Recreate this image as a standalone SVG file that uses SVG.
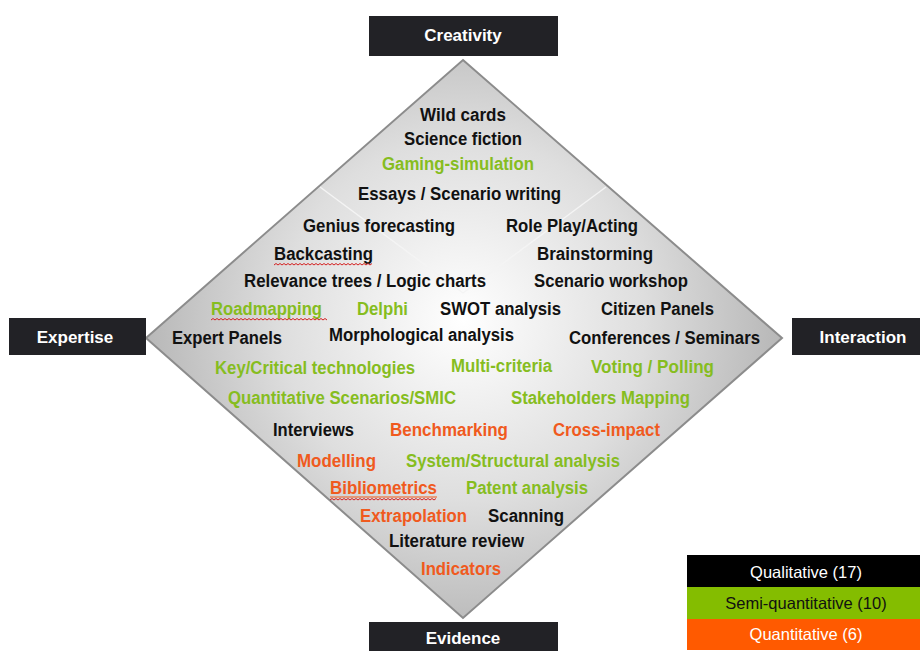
<svg xmlns="http://www.w3.org/2000/svg" width="920" height="651" viewBox="0 0 920 651">
<defs>
<radialGradient id="dg" cx="463" cy="320" r="330" gradientUnits="userSpaceOnUse">
<stop offset="0" stop-color="#ffffff"/>
<stop offset="0.55" stop-color="#dedede"/>
<stop offset="1" stop-color="#b4b4b4"/>
</radialGradient>
<style>
.lbl{font-family:"Liberation Sans",Arial,sans-serif;font-weight:bold;font-size:17px;fill:#ffffff;text-anchor:middle}
.t{font-family:"Liberation Sans",Arial,sans-serif;font-weight:bold;font-size:18px}
.k{fill:#111111}
.g{fill:#86bd1f}
.o{fill:#f05a1e}
.box{fill:#222226}
.lg{font-family:"Liberation Sans",Arial,sans-serif;font-size:16.5px;text-anchor:middle}
.sq{fill:none;stroke:#d42020;stroke-width:1}
</style>
</defs>
<rect width="920" height="651" fill="#ffffff"/>
<g id="diamond">
<polygon points="463,60 782,338 463,618 146,338" fill="url(#dg)" stroke="#8c8c8c" stroke-width="2"/>
<polyline points="320,187 463,293 606,187" fill="none" stroke="#f4f4f4" stroke-width="1.4"/>
</g>
<g id="creativity"><rect class="box" x="369" y="16" width="189" height="40"/><text class="lbl" x="463" y="41">Creativity</text></g>
<g id="expertise"><rect class="box" x="9" y="318" width="137" height="37"/><text class="lbl" x="75" y="343">Expertise</text></g>
<g id="interaction"><rect class="box" x="792" y="318" width="128" height="37"/><text class="lbl" x="863" y="343">Interaction</text></g>
<g id="evidence"><rect class="box" x="369" y="622" width="189" height="29"/><text class="lbl" x="463" y="644">Evidence</text></g>
<g id="methods">
<text class="t k" x="420" y="121" textLength="86" lengthAdjust="spacingAndGlyphs">Wild cards</text>
<text class="t k" x="404" y="145" textLength="118" lengthAdjust="spacingAndGlyphs">Science fiction</text>
<text class="t g" x="382" y="170" textLength="152" lengthAdjust="spacingAndGlyphs">Gaming-simulation</text>
<text class="t k" x="358" y="200" textLength="203" lengthAdjust="spacingAndGlyphs">Essays / Scenario writing</text>
<text class="t k" x="303" y="232" textLength="152" lengthAdjust="spacingAndGlyphs">Genius forecasting</text>
<text class="t k" x="506" y="232" textLength="132" lengthAdjust="spacingAndGlyphs">Role Play/Acting</text>
<text class="t k" x="274" y="260" textLength="99" lengthAdjust="spacingAndGlyphs">Backcasting</text>
<text class="t k" x="537" y="260" textLength="116" lengthAdjust="spacingAndGlyphs">Brainstorming</text>
<text class="t k" x="244" y="287" textLength="242" lengthAdjust="spacingAndGlyphs">Relevance trees / Logic charts</text>
<text class="t k" x="534" y="287" textLength="154" lengthAdjust="spacingAndGlyphs">Scenario workshop</text>
<text class="t g" x="211" y="315" textLength="111" lengthAdjust="spacingAndGlyphs">Roadmapping</text>
<text class="t g" x="357" y="315" textLength="51" lengthAdjust="spacingAndGlyphs">Delphi</text>
<text class="t k" x="440" y="315" textLength="121" lengthAdjust="spacingAndGlyphs">SWOT analysis</text>
<text class="t k" x="601" y="315" textLength="113" lengthAdjust="spacingAndGlyphs">Citizen Panels</text>
<text class="t k" x="172" y="344" textLength="110" lengthAdjust="spacingAndGlyphs">Expert Panels</text>
<text class="t k" x="329" y="341" textLength="185" lengthAdjust="spacingAndGlyphs">Morphological analysis</text>
<text class="t k" x="569" y="344" textLength="191" lengthAdjust="spacingAndGlyphs">Conferences / Seminars</text>
<text class="t g" x="215" y="374" textLength="200" lengthAdjust="spacingAndGlyphs">Key/Critical technologies</text>
<text class="t g" x="451" y="372" textLength="101" lengthAdjust="spacingAndGlyphs">Multi-criteria</text>
<text class="t g" x="591" y="373" textLength="123" lengthAdjust="spacingAndGlyphs">Voting / Polling</text>
<text class="t g" x="228" y="404" textLength="228" lengthAdjust="spacingAndGlyphs">Quantitative Scenarios/SMIC</text>
<text class="t g" x="511" y="404" textLength="179" lengthAdjust="spacingAndGlyphs">Stakeholders Mapping</text>
<text class="t k" x="273" y="436" textLength="81" lengthAdjust="spacingAndGlyphs">Interviews</text>
<text class="t o" x="390" y="436" textLength="118" lengthAdjust="spacingAndGlyphs">Benchmarking</text>
<text class="t o" x="553" y="436" textLength="107" lengthAdjust="spacingAndGlyphs">Cross-impact</text>
<text class="t o" x="297" y="467" textLength="79" lengthAdjust="spacingAndGlyphs">Modelling</text>
<text class="t g" x="406" y="467" textLength="214" lengthAdjust="spacingAndGlyphs">System/Structural analysis</text>
<text class="t o" x="330" y="494" textLength="107" lengthAdjust="spacingAndGlyphs">Bibliometrics</text>
<text class="t g" x="466" y="494" textLength="122" lengthAdjust="spacingAndGlyphs">Patent analysis</text>
<text class="t o" x="360" y="522" textLength="107" lengthAdjust="spacingAndGlyphs">Extrapolation</text>
<text class="t k" x="488" y="522" textLength="76" lengthAdjust="spacingAndGlyphs">Scanning</text>
<text class="t k" x="389" y="547" textLength="135" lengthAdjust="spacingAndGlyphs">Literature review</text>
<text class="t o" x="421" y="575" textLength="80" lengthAdjust="spacingAndGlyphs">Indicators</text>
<path class="sq" d="M274,265 l2,-1.5 2,1.5 2,-1.5 2,1.5 2,-1.5 2,1.5 2,-1.5 2,1.5 2,-1.5 2,1.5 2,-1.5 2,1.5 2,-1.5 2,1.5 2,-1.5 2,1.5 2,-1.5 2,1.5 2,-1.5 2,1.5 2,-1.5 2,1.5 2,-1.5 2,1.5 2,-1.5 2,1.5 2,-1.5 2,1.5 2,-1.5 2,1.5 2,-1.5 2,1.5 2,-1.5 2,1.5 2,-1.5 2,1.5 2,-1.5 2,1.5 2,-1.5 2,1.5 2,-1.5 2,1.5 2,-1.5 2,1.5 2,-1.5 2,1.5 2,-1.5 2,1.5 2,-1.5"/>
<path class="sq" d="M211,320 l2,-1.5 2,1.5 2,-1.5 2,1.5 2,-1.5 2,1.5 2,-1.5 2,1.5 2,-1.5 2,1.5 2,-1.5 2,1.5 2,-1.5 2,1.5 2,-1.5 2,1.5 2,-1.5 2,1.5 2,-1.5 2,1.5 2,-1.5 2,1.5 2,-1.5 2,1.5 2,-1.5 2,1.5 2,-1.5 2,1.5 2,-1.5 2,1.5 2,-1.5 2,1.5 2,-1.5 2,1.5 2,-1.5 2,1.5 2,-1.5 2,1.5 2,-1.5 2,1.5 2,-1.5 2,1.5 2,-1.5 2,1.5 2,-1.5 2,1.5 2,-1.5 2,1.5 2,-1.5 2,1.5 2,-1.5 2,1.5 2,-1.5 2,1.5 2,-1.5 2,1.5 2,-1.5 2,1.5"/>
<line x1="330" y1="497" x2="437" y2="497" stroke="#f05a1e" stroke-width="1.2"/>
<path class="sq" d="M330,500 l2,-1.5 2,1.5 2,-1.5 2,1.5 2,-1.5 2,1.5 2,-1.5 2,1.5 2,-1.5 2,1.5 2,-1.5 2,1.5 2,-1.5 2,1.5 2,-1.5 2,1.5 2,-1.5 2,1.5 2,-1.5 2,1.5 2,-1.5 2,1.5 2,-1.5 2,1.5 2,-1.5 2,1.5 2,-1.5 2,1.5 2,-1.5 2,1.5 2,-1.5 2,1.5 2,-1.5 2,1.5 2,-1.5 2,1.5 2,-1.5 2,1.5 2,-1.5 2,1.5 2,-1.5 2,1.5 2,-1.5 2,1.5 2,-1.5 2,1.5 2,-1.5 2,1.5 2,-1.5 2,1.5 2,-1.5 2,1.5 2,-1.5"/>
</g>
<g id="legend">
<rect x="687" y="555" width="233" height="32" fill="#000000"/>
<rect x="687" y="587" width="233" height="32" fill="#84bd00"/>
<rect x="687" y="619" width="233" height="31" fill="#ff5a00"/>
<text class="lg" x="806" y="578" fill="#ffffff">Qualitative (17)</text>
<text class="lg" x="806" y="609" fill="#111111">Semi-quantitative (10)</text>
<text class="lg" x="806" y="640" fill="#ffffff">Quantitative (6)</text>
</g>
</svg>
